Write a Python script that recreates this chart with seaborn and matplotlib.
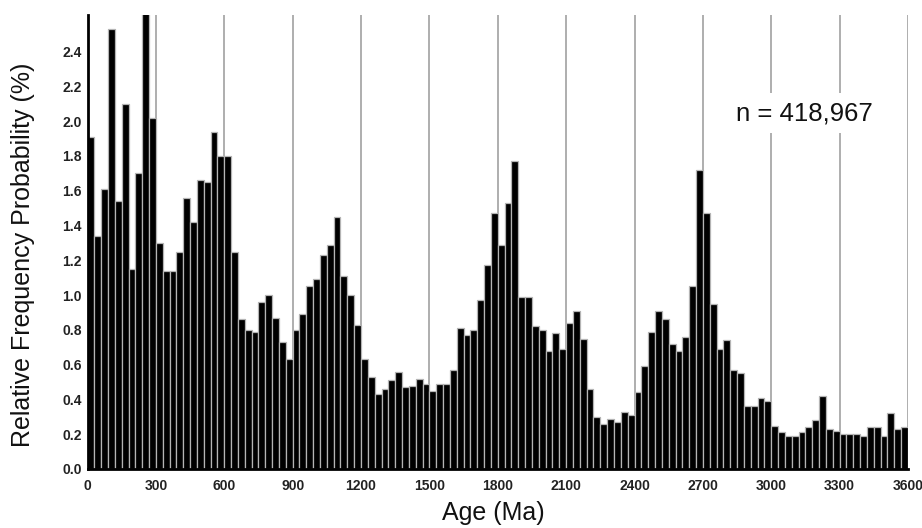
import numpy as np
import pandas as pd
import matplotlib
matplotlib.use("Agg")
import matplotlib.pyplot as plt
import seaborn as sns

# ---- data (relative frequency probability, %, per 30 Ma bin from 0 to 3600 Ma) ----
bin_width = 30
age_min, age_max = 0, 3600
freq_pct = [
    1.91, 1.34, 1.61, 2.53, 1.54, 2.10, 1.15, 1.70, 2.65, 2.02,   # 0-300
    1.30, 1.14, 1.14, 1.25, 1.56, 1.42, 1.66, 1.65, 1.94, 1.80,   # 300-600
    1.80, 1.25, 0.86, 0.80, 0.79, 0.96, 1.00, 0.87, 0.73, 0.63,   # 600-900
    0.80, 0.89, 1.05, 1.09, 1.23, 1.29, 1.45, 1.11, 1.00, 0.83,   # 900-1200
    0.63, 0.53, 0.43, 0.46, 0.51, 0.56, 0.47, 0.48, 0.52, 0.49,   # 1200-1500
    0.45, 0.49, 0.49, 0.57, 0.81, 0.77, 0.80, 0.97, 1.17, 1.47,   # 1500-1800
    1.29, 1.53, 1.77, 0.99, 0.99, 0.82, 0.80, 0.68, 0.78, 0.69,   # 1800-2100
    0.84, 0.91, 0.75, 0.46, 0.30, 0.26, 0.29, 0.27, 0.33, 0.31,   # 2100-2400
    0.44, 0.59, 0.79, 0.91, 0.86, 0.72, 0.68, 0.76, 1.05, 1.72,   # 2400-2700
    1.47, 0.95, 0.69, 0.74, 0.57, 0.55, 0.36, 0.36, 0.41, 0.39,   # 2700-3000
    0.25, 0.21, 0.19, 0.19, 0.21, 0.24, 0.28, 0.42, 0.23, 0.22,   # 3000-3300
    0.20, 0.20, 0.20, 0.19, 0.24, 0.24, 0.19, 0.32, 0.23, 0.24,   # 3300-3600
]
x_ticks = list(range(0, 3601, 300))
y_ticks = [round(0.2 * i, 1) for i in range(13)]
n_label = "n = 418,967"

edges = np.arange(age_min, age_max + bin_width, bin_width)
centers = (edges[:-1] + edges[1:]) / 2
df = pd.DataFrame({"age": centers, "freq": freq_pct})

# ---- style ----
sns.set_style("white")
plt.rcParams["font.family"] = ["Liberation Sans", "DejaVu Sans"]

fig = plt.figure(figsize=(9.22, 5.28), dpi=100)
ax = fig.add_axes([87.5 / 922, 59 / 528, (908 - 87.5) / 922, (469 - 15) / 528])

sns.histplot(data=df, x="age", weights="freq", binwidth=bin_width,
             binrange=(age_min, age_max), ax=ax,
             color="black", edgecolor="#b4b4b4", linewidth=0.9, alpha=1.0,
             zorder=2)

ax.set_xlim(age_min, age_max)
ax.set_ylim(0, 2.61)
ax.set_xticks(x_ticks)
ax.set_yticks(y_ticks)
ax.set_yticklabels([f"{v:.1f}" for v in y_ticks])

ax.set_axisbelow(True)
ax.grid(False)
ax.xaxis.grid(True, color="#a8a8a8", linewidth=1.3)

for lab in ax.get_xticklabels() + ax.get_yticklabels():
    lab.set_fontweight("bold")
    lab.set_fontsize(10)
    lab.set_color("#222222")
ax.tick_params(axis="both", length=0)
ax.tick_params(axis="x", pad=7)
ax.tick_params(axis="y", pad=4)

for s in ["top", "right"]:
    ax.spines[s].set_visible(False)
ax.spines["left"].set_color("black")
ax.spines["left"].set_linewidth(2.0)
ax.spines["bottom"].set_color("black")
ax.spines["bottom"].set_linewidth(2.0)
ax.spines["left"].set_zorder(3)
ax.spines["bottom"].set_zorder(3)

ax.set_xlabel("Age (Ma)", fontsize=18, color="#111111")
ax.set_ylabel("Relative Frequency Probability (%)", fontsize=18, color="#111111")
ax.xaxis.set_label_coords(0.495, (469 - 513) / 454)
ax.xaxis.label.set_va("center")
ax.yaxis.set_label_coords((23 - 87.5) / 820.5, (469 - 255) / 454)
ax.yaxis.label.set_va("center")

ax.text(3145, 2.046, n_label, fontsize=18.5, ha="center", va="center",
        color="#111111", zorder=4,
        bbox=dict(facecolor="white", edgecolor="none", pad=6))

fig.savefig("out.png", dpi=100)
